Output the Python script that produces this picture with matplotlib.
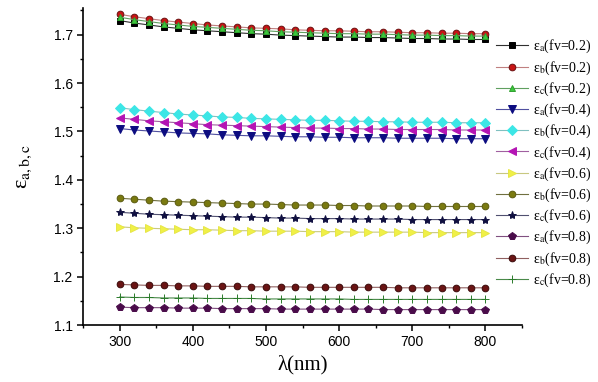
import numpy as np
import matplotlib
matplotlib.use("Agg")
import matplotlib.pyplot as plt
from matplotlib.ticker import MultipleLocator

# wavelength grid (nm)
wl = np.arange(300, 801, 20)

# permittivity components for each volume fraction
ea_02 = [1.729, 1.724, 1.720, 1.716, 1.713, 1.710, 1.708, 1.706, 1.704, 1.702, 1.701, 1.699, 1.698,
         1.697, 1.696, 1.695, 1.695, 1.694, 1.694, 1.693, 1.692, 1.692, 1.691, 1.691, 1.690, 1.690]
eb_02 = [1.742, 1.737, 1.733, 1.729, 1.726, 1.723, 1.720, 1.718, 1.716, 1.714, 1.713, 1.712, 1.710,
         1.709, 1.708, 1.708, 1.707, 1.706, 1.706, 1.705, 1.704, 1.704, 1.703, 1.703, 1.702, 1.702]
ec_02 = [1.736, 1.731, 1.727, 1.723, 1.720, 1.717, 1.715, 1.713, 1.711, 1.709, 1.708, 1.706, 1.705,
         1.704, 1.703, 1.702, 1.702, 1.701, 1.701, 1.700, 1.699, 1.699, 1.698, 1.698, 1.697, 1.697]
ea_04 = [1.506, 1.503, 1.501, 1.499, 1.497, 1.496, 1.495, 1.493, 1.492, 1.491, 1.491, 1.490, 1.489,
         1.489, 1.488, 1.488, 1.487, 1.487, 1.487, 1.486, 1.486, 1.486, 1.486, 1.485, 1.485, 1.485]
eb_04 = [1.549, 1.545, 1.542, 1.539, 1.536, 1.534, 1.532, 1.530, 1.529, 1.527, 1.526, 1.525, 1.524,
         1.523, 1.523, 1.522, 1.521, 1.521, 1.520, 1.520, 1.519, 1.519, 1.519, 1.518, 1.518, 1.518]
ec_04 = [1.528, 1.525, 1.522, 1.520, 1.518, 1.516, 1.514, 1.513, 1.512, 1.511, 1.510, 1.509, 1.508,
         1.507, 1.507, 1.506, 1.506, 1.505, 1.505, 1.504, 1.504, 1.504, 1.504, 1.503, 1.503, 1.503]
ea_06 = [1.303, 1.301, 1.300, 1.299, 1.298, 1.297, 1.297, 1.296, 1.295, 1.295, 1.294, 1.294, 1.294,
         1.293, 1.293, 1.293, 1.292, 1.292, 1.292, 1.292, 1.292, 1.291, 1.291, 1.291, 1.291, 1.291]
eb_06 = [1.362, 1.360, 1.358, 1.356, 1.355, 1.354, 1.353, 1.352, 1.351, 1.350, 1.350, 1.349, 1.348,
         1.348, 1.348, 1.347, 1.347, 1.346, 1.346, 1.346, 1.346, 1.345, 1.345, 1.345, 1.345, 1.345]
ec_06 = [1.333, 1.331, 1.329, 1.328, 1.327, 1.326, 1.325, 1.324, 1.323, 1.323, 1.322, 1.321, 1.321,
         1.320, 1.320, 1.320, 1.319, 1.319, 1.319, 1.319, 1.318, 1.318, 1.318, 1.318, 1.318, 1.318]
ea_08 = [1.137, 1.136, 1.136, 1.136, 1.135, 1.135, 1.135, 1.134, 1.134, 1.134, 1.134, 1.133, 1.133,
         1.133, 1.133, 1.133, 1.133, 1.133, 1.132, 1.132, 1.132, 1.132, 1.132, 1.132, 1.132, 1.132]
eb_08 = [1.184, 1.183, 1.182, 1.182, 1.181, 1.181, 1.180, 1.180, 1.180, 1.179, 1.179, 1.179, 1.179,
         1.178, 1.178, 1.178, 1.178, 1.178, 1.178, 1.177, 1.177, 1.177, 1.177, 1.177, 1.177, 1.177]
ec_08 = [1.158, 1.157, 1.157, 1.156, 1.156, 1.156, 1.155, 1.155, 1.155, 1.155, 1.154, 1.154, 1.154,
         1.154, 1.154, 1.154, 1.153, 1.153, 1.153, 1.153, 1.153, 1.153, 1.153, 1.153, 1.153, 1.153]

labels = ['ε$_\\mathrm{a}$(fv=0.2)', 'ε$_\\mathrm{b}$(fv=0.2)', 'ε$_\\mathrm{c}$(fv=0.2)',
          'ε$_\\mathrm{a}$(fv=0.4)', 'ε$_\\mathrm{b}$(fv=0.4)', 'ε$_\\mathrm{c}$(fv=0.4)',
          'ε$_\\mathrm{a}$(fv=0.6)', 'ε$_\\mathrm{b}$(fv=0.6)', 'ε$_\\mathrm{c}$(fv=0.6)',
          'ε$_\\mathrm{a}$(fv=0.8)', 'ε$_\\mathrm{b}$(fv=0.8)', 'ε$_\\mathrm{c}$(fv=0.8)']
series = [ea_02, eb_02, ec_02, ea_04, eb_04, ec_04, ea_06, eb_06, ec_06, ea_08, eb_08, ec_08]

# marker, face colour, edge colour, line colour
styles = [
    ('s', '#000000', '#000000', '#303030'),
    ('o', '#c81414', '#6a1010', '#c08080'),
    ('^', '#3cc83c', '#30a030', '#60a060'),
    ('v', '#0c0c80', '#0c0c80', '#5050a0'),
    ('D', '#3ce6e6', '#3ce6e6', '#80c0c0'),
    ('<', '#b414b4', '#b414b4', '#a060a0'),
    ('>', '#f0f046', '#e6e646', '#c8c880'),
    ('o', '#7a7a10', '#5a5a10', '#707040'),
    ('*', '#101040', '#101040', '#505070'),
    ('p', '#4a0c4a', '#4a0c4a', '#805080'),
    ('o', '#6a1414', '#3a0a0a', '#906060'),
    ('+', '#2a7a2a', '#2a7a2a', '#4a8a4a'),
]
sizes = [4, 4.8, 5, 5.5, 4.6, 5.5, 5.5, 4.8, 6, 5.3, 4.8, 6]

plt.rcParams['mathtext.fontset'] = 'stix'

fig = plt.figure(figsize=(5.98, 3.82), dpi=100)
ax = fig.add_axes([0.139, 0.149, 0.734, 0.83])

for y, lab, (m, fc, ec, lc), ms in zip(series, labels, styles, sizes):
    ax.plot(wl, y, color=lc, lw=0.8, marker=m, markersize=ms,
            markerfacecolor=fc, markeredgecolor=ec, markeredgewidth=0.7, label=lab)

ax.set_xlim(250, 850)
ax.set_ylim(1.1, 1.755)
ax.xaxis.set_minor_locator(MultipleLocator(50))
ax.yaxis.set_major_locator(MultipleLocator(0.1))
ax.yaxis.set_minor_locator(MultipleLocator(0.05))
ax.set_xticks(np.arange(300, 801, 100))
ax.spines['top'].set_visible(False)
ax.spines['right'].set_visible(False)
for s in ('left', 'bottom'):
    ax.spines[s].set_linewidth(1.2)
ax.tick_params(which='major', direction='out', length=4, width=1.1, labelsize=10)
ax.tick_params(which='minor', direction='out', length=2.5, width=1.0)
for t in ax.get_xticklabels() + ax.get_yticklabels():
    t.set_family('Liberation Sans')

ax.set_xlabel('λ(nm)', family='Liberation Serif', fontsize=15, labelpad=4)
ax.set_ylabel('ε$_\\mathrm{a,b,c}$', family='Liberation Serif', fontsize=16, labelpad=14)

leg = fig.legend(loc='upper left', bbox_to_anchor=(0.82, 0.915), frameon=False,
                 prop={'family': 'Liberation Serif', 'size': 10},
                 handlelength=2.3, labelspacing=0.28, handletextpad=0.35, borderaxespad=0)

fig.savefig('out.png', dpi=100)
